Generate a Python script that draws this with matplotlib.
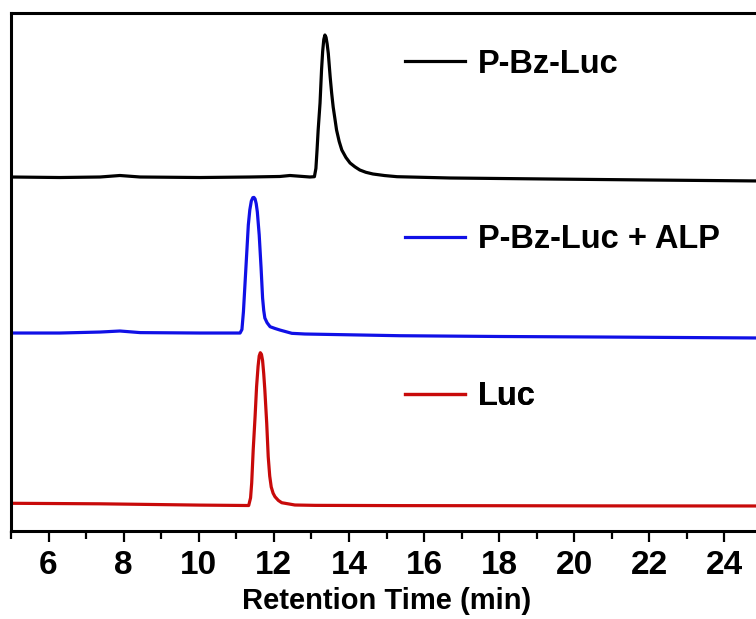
import numpy as np
import matplotlib.pyplot as plt
from matplotlib.lines import Line2D
from matplotlib.ticker import MultipleLocator

plt.rcParams['font.family'] = ['Liberation Sans', 'DejaVu Sans']
plt.rcParams['font.weight'] = 'bold'

# chromatogram traces (retention time in min, signal in a.u.)
t_pbz = [5.00, 6.30, 7.37, 7.90, 8.44, 10.03, 11.36, 12.16, 12.43, 12.96, 13.08,
         13.12, 13.15, 13.18, 13.23, 13.27, 13.30, 13.33, 13.36, 13.39, 13.42,
         13.45, 13.50, 13.54, 13.58, 13.63, 13.67, 13.74, 13.81, 13.92, 14.03,
         14.16, 14.29, 14.45, 14.64, 14.95, 15.28, 16.69, 19.35, 22.02, 25.00]
y_pbz = [68.34, 68.24, 68.34, 68.63, 68.34, 68.24, 68.34, 68.44, 68.63, 68.34, 68.40,
         70.0, 73.5, 77.41, 82.63, 89.00, 92.6, 94.9, 95.75, 95.3, 94.0,
         92.2, 87.64, 84.5, 81.85, 79.4, 77.41, 75.2, 73.55, 72.1, 71.04,
         70.3, 69.69, 69.25, 68.92, 68.62, 68.40, 68.15, 67.95, 67.76, 67.57]

t_alp = [5.00, 6.30, 7.37, 7.90, 8.44, 10.03, 11.10, 11.15, 11.19, 11.23, 11.28,
         11.32, 11.36, 11.40, 11.44, 11.47, 11.50, 11.53, 11.56, 11.61, 11.66,
         11.70, 11.73, 11.76, 11.82, 11.90, 12.03, 12.16, 12.48, 12.83, 15.36,
         18.02, 20.69, 25.00]
y_alp = [38.22, 38.22, 38.41, 38.61, 38.30, 38.22, 38.22, 38.9, 42.34, 47.49, 53.92,
         59.07, 62.0, 63.7, 64.35, 64.4, 64.1, 63.2, 61.6, 57.14, 50.77,
         44.98, 42.6, 41.12, 40.2, 39.44, 39.1, 38.80, 38.16, 38.03, 37.70,
         37.55, 37.45, 37.26]

t_luc = [5.00, 7.37, 10.03, 11.33, 11.38, 11.41, 11.45, 11.50, 11.54, 11.58, 11.61,
         11.64, 11.67, 11.70, 11.73, 11.76, 11.81, 11.85, 11.89, 11.93, 11.98,
         12.03, 12.12, 12.21, 12.56, 13.10, 15.36, 18.02, 20.69, 25.00]
y_luc = [5.35, 5.25, 5.00, 4.92, 6.4, 9.27, 15.64, 22.07, 27.86, 31.8, 33.8,
         34.42, 34.1, 32.9, 30.4, 27.22, 20.79, 14.34, 10.6, 8.5, 7.3,
         6.62, 5.9, 5.46, 5.02, 4.95, 4.90, 4.88, 4.85, 4.83]

labels = ['P-Bz-Luc', 'P-Bz-Luc + ALP', 'Luc']
colors = ['black', '#1010E6', '#C80A0A']
label_y = [0.9015, 0.5618, 0.2587]   # legend rows, axes fraction

fig = plt.figure(figsize=(7.56, 6.19), dpi=100)
ax = fig.add_axes([0.01455, 0.14216, 0.99339, 0.83683])

series = [(t_pbz, y_pbz), (t_alp, y_alp), (t_luc, y_luc)]
for (t, y), c in zip(series, colors):
    ax.plot(t, y, color=c, lw=2.3, solid_joinstyle='round', solid_capstyle='round')

for lab, c, yy in zip(labels, colors, label_y):
    h = Line2D([], [], color=c, lw=2.3)
    leg = ax.legend(handles=[h], labels=[lab], loc='center left',
                    bbox_to_anchor=(0.5246, yy), frameon=False, borderpad=0,
                    borderaxespad=0, handlelength=1.84, handletextpad=0.4,
                    prop={'size': 23.5, 'weight': 'bold'})
    ax.add_artist(leg)

ax.set_xlim(5, 25)
ax.set_ylim(0, 100)
ax.xaxis.set_major_locator(MultipleLocator(2))
ax.xaxis.set_minor_locator(MultipleLocator(1))
ax.set_yticks([])
ax.tick_params(axis='x', which='major', direction='out', length=8, width=1.6,
               labelsize=24, pad=6)
ax.tick_params(axis='x', which='minor', direction='out', length=5.5, width=1.6)
for lbl in ax.get_xticklabels():
    lbl.set_fontweight('bold')
for sp in ax.spines.values():
    sp.set_linewidth(2.2)

ax.set_xlabel('Retention Time (min)', fontsize=21, fontweight='bold', labelpad=4)

fig.savefig('out.png', dpi=100)
